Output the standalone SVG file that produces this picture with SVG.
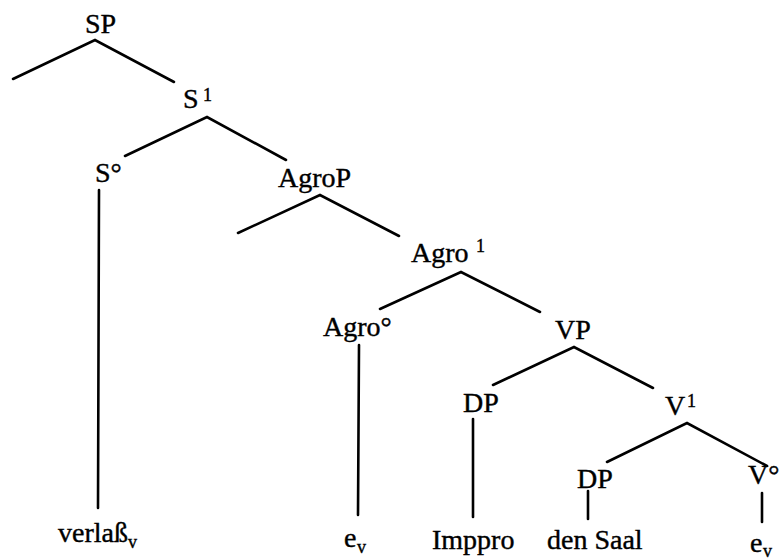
<svg xmlns="http://www.w3.org/2000/svg" width="780" height="560" viewBox="0 0 780 560">
<style>
text{font-family:"Liberation Serif","Times New Roman",serif;font-size:28px;fill:#000;stroke:#000;stroke-width:0.4}
.sup{font-size:18px}
.sub{font-size:18px}
#edges path,#edges line{stroke:#000;stroke-width:2.6;fill:none;stroke-linecap:round;stroke-linejoin:miter}
</style>
<rect width="780" height="560" fill="#fff"/>
<g id="edges">
<path d="M13,79 L95,40 L174,82"/>
<path d="M125,156 L207,117 L286,160"/>
<line x1="99" y1="190" x2="98" y2="508"/>
<path d="M238,233 L320,195 L399,236"/>
<path d="M380,309 L461,272 L540,312"/>
<line x1="359" y1="345" x2="358" y2="515"/>
<path d="M493,385 L574,347 L653,388"/>
<line x1="473" y1="419" x2="473" y2="517"/>
<path d="M607,462 L687,423 L767,466"/>
<line x1="588" y1="491" x2="588" y2="519"/>
<line x1="762" y1="493" x2="762" y2="522"/>
</g>
<g id="SP"><text x="85" y="33">SP</text></g>
<g id="S1"><text x="183" y="108">S<tspan class="sup" x="203" y="101">1</tspan></text></g>
<g id="S0"><text x="95" y="182">S°</text></g>
<g id="AgroP"><text x="278" y="187">AgroP</text></g>
<g id="Agro1"><text x="411" y="262">Agro<tspan class="sup" x="476" y="252">1</tspan></text></g>
<g id="Agro0"><text x="323" y="336">Agro°</text></g>
<g id="VP"><text x="555" y="339">VP</text></g>
<g id="DP1"><text x="463" y="412">DP</text></g>
<g id="V1"><text x="665" y="415">V<tspan class="sup" x="687" y="407">1</tspan></text></g>
<g id="DP2"><text x="577" y="488">DP</text></g>
<g id="V0"><text x="748" y="484">V°</text></g>
<g id="verlass"><text x="58" y="542">verlaß<tspan class="sub" x="128" y="548">v</tspan></text></g>
<g id="ev1"><text x="344" y="547">e<tspan class="sub" x="357" y="553">v</tspan></text></g>
<g id="Imppro"><text x="432" y="549">Imppro</text></g>
<g id="denSaal"><text x="547" y="549">den Saal</text></g>
<g id="ev2"><text x="750" y="552">e<tspan class="sub" x="763" y="557">v</tspan></text></g>
</svg>
